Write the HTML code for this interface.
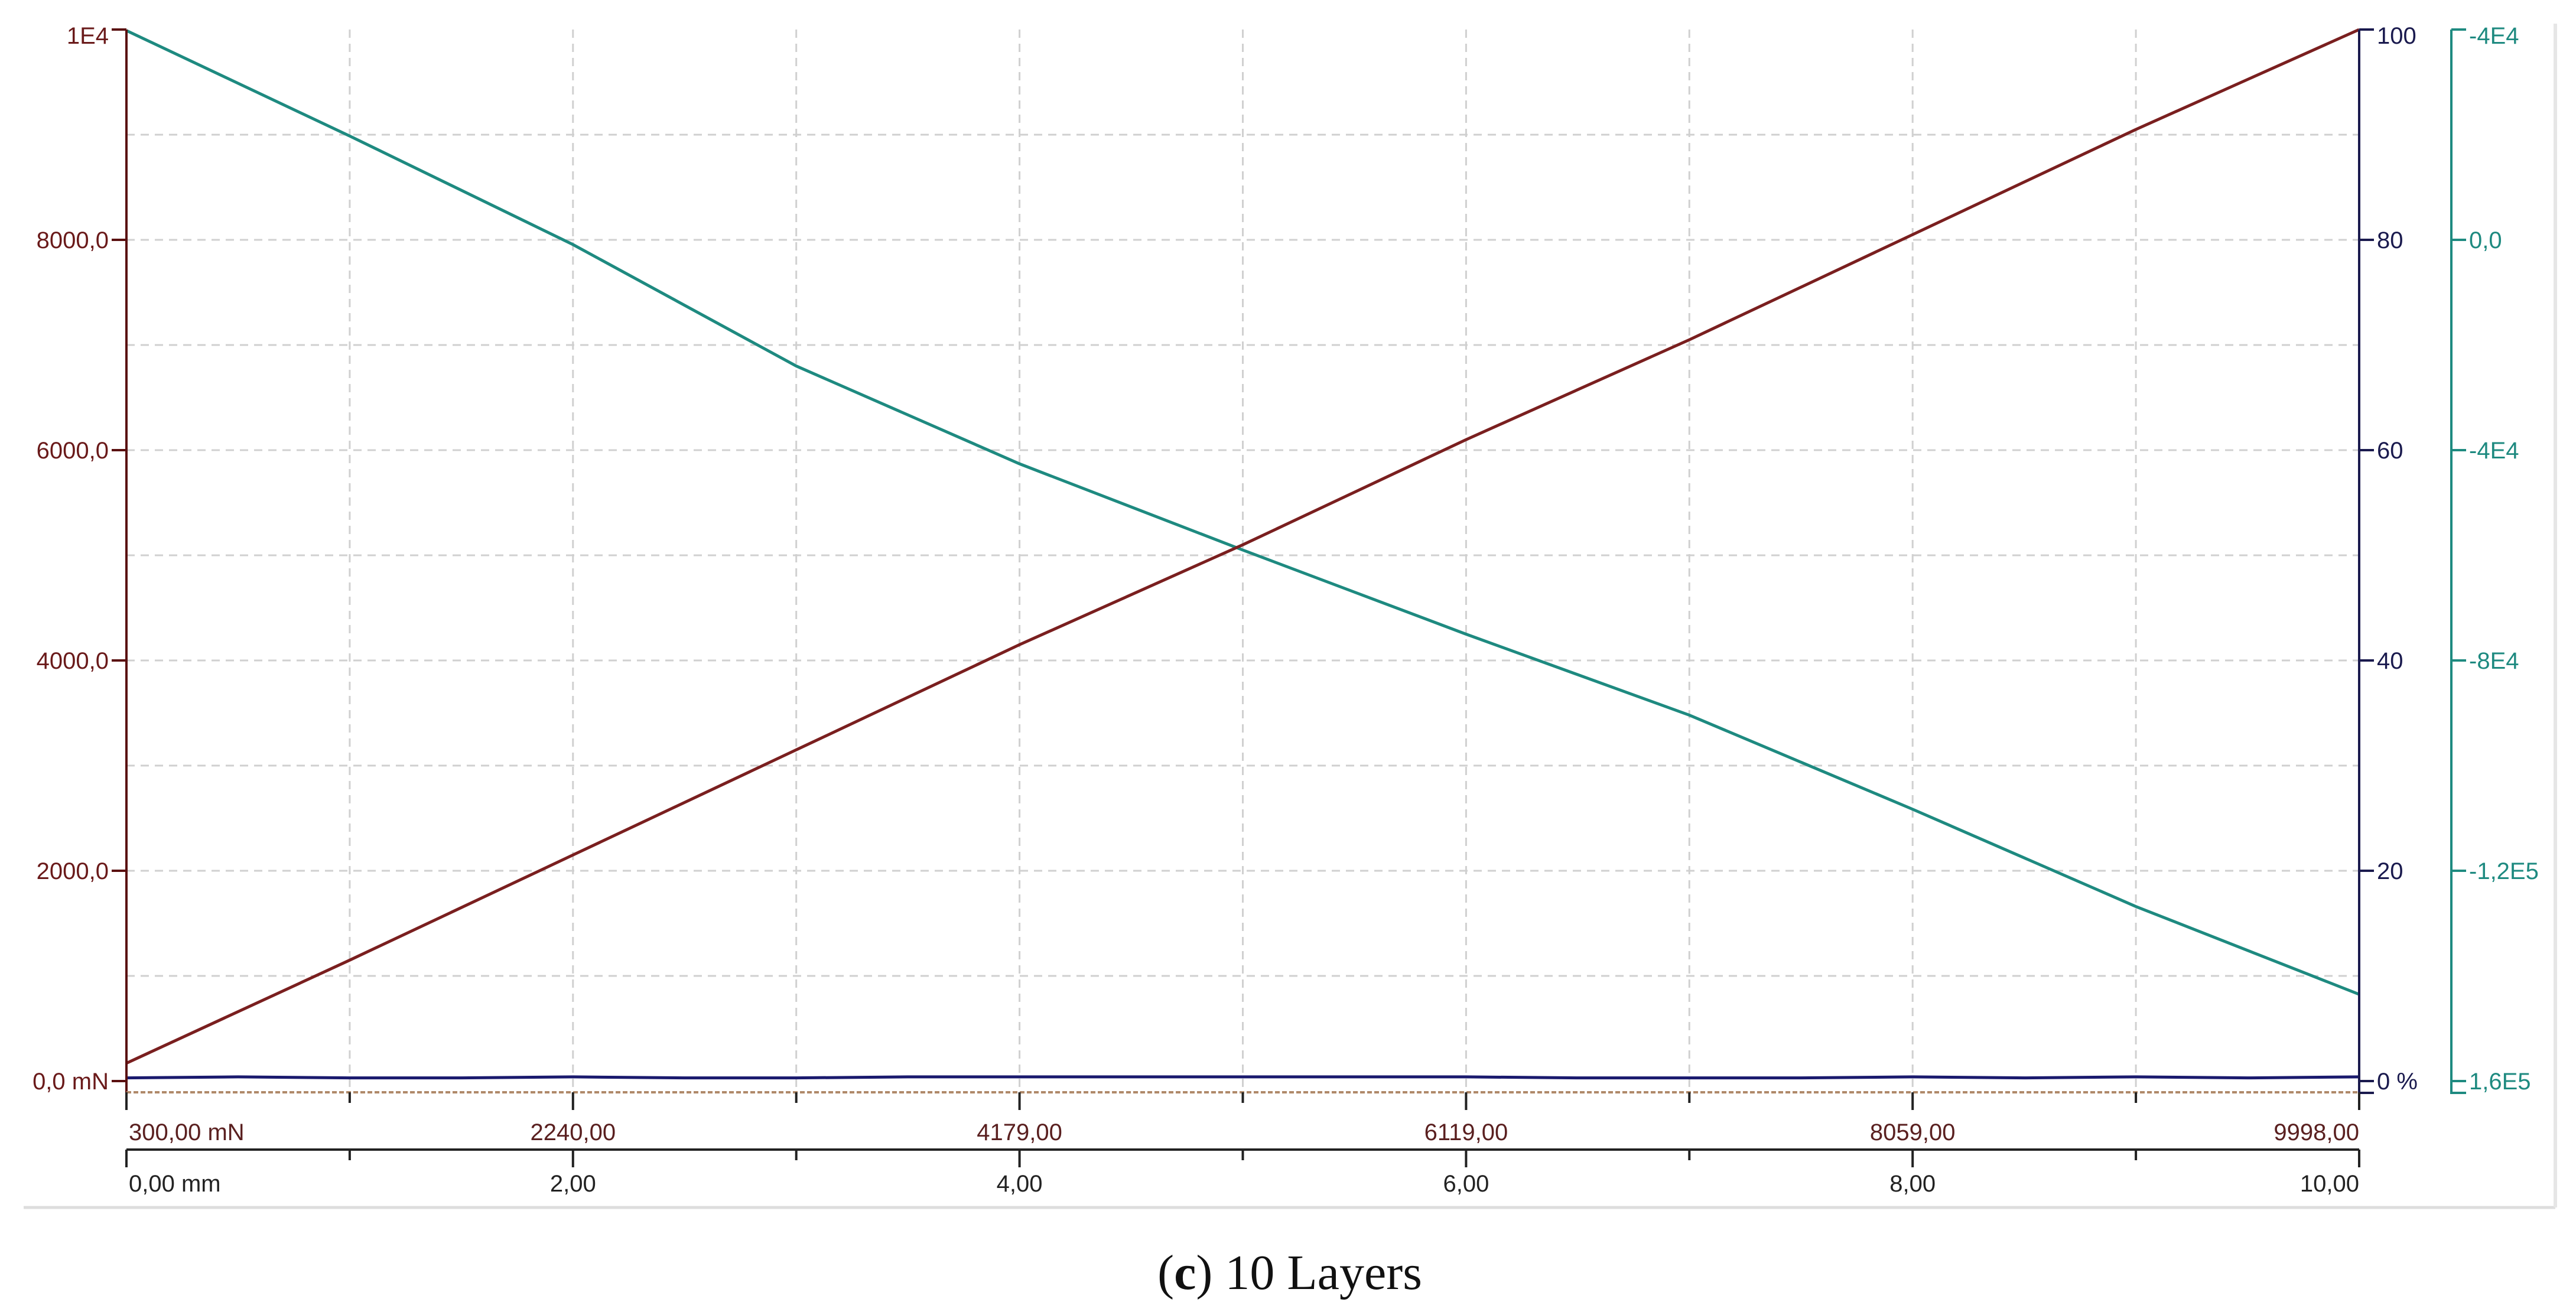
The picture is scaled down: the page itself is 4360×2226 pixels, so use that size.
<!DOCTYPE html>
<html><head><meta charset="utf-8"><style>
html,body{margin:0;padding:0;background:#fff;width:4360px;height:2226px;overflow:hidden}
svg{display:block}
.t{font-family:"Liberation Sans",sans-serif;font-size:40px}
</style></head><body>
<svg id="chart" width="4360" height="2226" viewBox="0 0 4360 2226">
<line x1="40" y1="2044" x2="4325" y2="2044" stroke="#ddd" stroke-width="5"/>
<line x1="4325" y1="40" x2="4325" y2="2044" stroke="#e6e6e6" stroke-width="6"/>
<g id="grid"></g><g id="series"></g><g id="axes"></g>
<text x="2183" y="2182" text-anchor="middle" font-family="'Liberation Serif',serif" font-size="84" fill="#111">(<tspan font-weight="bold">c</tspan>) 10 Layers</text>
</svg>
<script>
const xMm = [0,1,2,3,4,5,6,7,8,9,10];
const forceVals = [170,1150,2150,3150,4150,5100,6100,7050,8050,9050,10000];
const teal = [39800,19750,-900,-24000,-42600,-59000,-75000,-90400,-108300,-126800,-143500];
const blueX = [0,0.5,1,1.5,2,2.5,3,3.5,4,4.5,5,5.5,6,6.5,7,7.5,8,8.5,9,9.5,10];
const blueVals = [0.3,0.4,0.3,0.3,0.4,0.3,0.3,0.4,0.4,0.4,0.4,0.4,0.4,0.3,0.3,0.3,0.4,0.3,0.4,0.3,0.4];
const leftTicks = [0,2000,4000,6000,8000,10000];
const leftLabels = ["0,0 mN","2000,0","4000,0","6000,0","8000,0","1E4"];
const rightTicks = [0,20,40,60,80,100];
const rightLabels = ["0 %","20","40","60","80","100"];
const tealTicks = [-160000,-120000,-80000,-40000,0,40000];
const tealLabels = ["1,6E5","-1,2E5","-8E4","-4E4","0,0","-4E4"];
const forceTickLabels = ["300,00 mN","2240,00","4179,00","6119,00","8059,00","9998,00"];
const mmTickLabels = ["0,00 mm","2,00","4,00","6,00","8,00","10,00"];

const X0=214, X1=3993, Y0=1830, Y1=50;
const xs = v => X0 + (v-0)/(10-0)*(X1-X0);
const yL = v => Y0 - v/10000*(Y0-Y1);
const yR = v => Y0 - v/100*(Y0-Y1);
const yT = v => Y0 - (v+160000)/200000*(Y0-Y1);
const NS="http://www.w3.org/2000/svg";
function mk(tag, attrs, parent){const e=document.createElementNS(NS,tag);for(const k in attrs)e.setAttribute(k,attrs[k]);parent.appendChild(e);return e;}
const grid=document.getElementById('grid'), ser=document.getElementById('series'), ax=document.getElementById('axes');

for(let i=1;i<10;i++){
  const l=mk('line',{x1:xs(i),x2:xs(i),y1:Y1,y2:Y0+15,stroke:'#d0d0d0','stroke-width':3,'stroke-dasharray':'14 10'},grid);
  
  
}
for(let i=1;i<10;i++){
  const y=Y0-i*(Y0-Y1)/10;
  const l=mk('line',{x1:X0,x2:X1,y1:y,y2:y,stroke:'#d0d0d0','stroke-width':3,'stroke-dasharray':'14 10'},grid);
  
  
}
let p=mk('polyline',{points:xMm.map((x,i)=>xs(x)+','+yT(teal[i])).join(' '),fill:'none',stroke:'#1e8a80','stroke-width':5},ser);


p=mk('polyline',{points:xMm.map((x,i)=>xs(x)+','+yL(forceVals[i])).join(' '),fill:'none',stroke:'#7a1f1f','stroke-width':5},ser);


p=mk('polyline',{points:blueX.map((x,i)=>xs(x)+','+yR(blueVals[i])).join(' '),fill:'none',stroke:'#1a1a6e','stroke-width':5},ser);



let a=mk('line',{x1:X0,x2:X0,y1:Y1,y2:Y0+20,stroke:'#5a1010','stroke-width':4},ax);


leftTicks.forEach((v,i)=>{
  mk('line',{x1:X0-25,x2:X0,y1:yL(v),y2:yL(v),stroke:'#5a1010','stroke-width':4},ax);
  const t=mk('text',{x:X0-30,y:yL(v)+(i==5?24:14),'text-anchor':'end',class:'t',fill:'#6a1a1a'},ax);
  t.textContent=leftLabels[i];
  
  
});
a=mk('polyline',{points:`${X1},${Y1} ${X1},${Y0+20} ${X1+25},${Y0+20}`,fill:'none',stroke:'#1a1a4e','stroke-width':4},ax);


rightTicks.forEach((v,i)=>{
  mk('line',{x1:X1,x2:X1+25,y1:yR(v),y2:yR(v),stroke:'#1a1a4e','stroke-width':4},ax);
  const t=mk('text',{x:X1+30,y:yR(v)+(i==5?24:14),class:'t',fill:'#1a1a4e'},ax);
  t.textContent=rightLabels[i];
  
  
});
const XT=4149;
a=mk('polyline',{points:`${XT},${Y1} ${XT},${Y0+20} ${XT+25},${Y0+20}`,fill:'none',stroke:'#1e8a80','stroke-width':4},ax);


tealTicks.forEach((v,i)=>{
  mk('line',{x1:XT,x2:XT+25,y1:yT(v),y2:yT(v),stroke:'#1e8a80','stroke-width':4},ax);
  const t=mk('text',{x:XT+30,y:yT(v)+(i==5?24:14),class:'t',fill:'#1e8a80'},ax);
  t.textContent=tealLabels[i];
  
  
});
const XA1=1849, XA2=1946;
a=mk('line',{x1:X0,x2:X1,y1:XA1,y2:XA1,stroke:'#b08a6a','stroke-width':4,'stroke-dasharray':'8 4'},ax);


a=mk('line',{x1:X0,x2:X1,y1:XA2,y2:XA2,stroke:'#222','stroke-width':4},ax);


for(let i=0;i<=10;i++){
  const len=(i%2==0)?30:18;
  mk('line',{x1:xs(i),x2:xs(i),y1:XA1,y2:XA1+len,stroke:'#222','stroke-width':4},ax);
  mk('line',{x1:xs(i),x2:xs(i),y1:XA2,y2:XA2+len,stroke:'#222','stroke-width':4},ax);
}
forceTickLabels.forEach((s,i)=>{
  const x=xs(i*2);
  const t=mk('text',{x:i==0?x+4:x,y:1930,'text-anchor':i==0?'start':(i==5?'end':'middle'),class:'t',fill:'#5a2020'},ax);
  t.textContent=s;
  
  
});
mmTickLabels.forEach((s,i)=>{
  const x=xs(i*2);
  const t=mk('text',{x:i==0?x+4:x,y:2017,'text-anchor':i==0?'start':(i==5?'end':'middle'),class:'t',fill:'#222'},ax);
  t.textContent=s;
  
  
});
</script>
</body></html>
